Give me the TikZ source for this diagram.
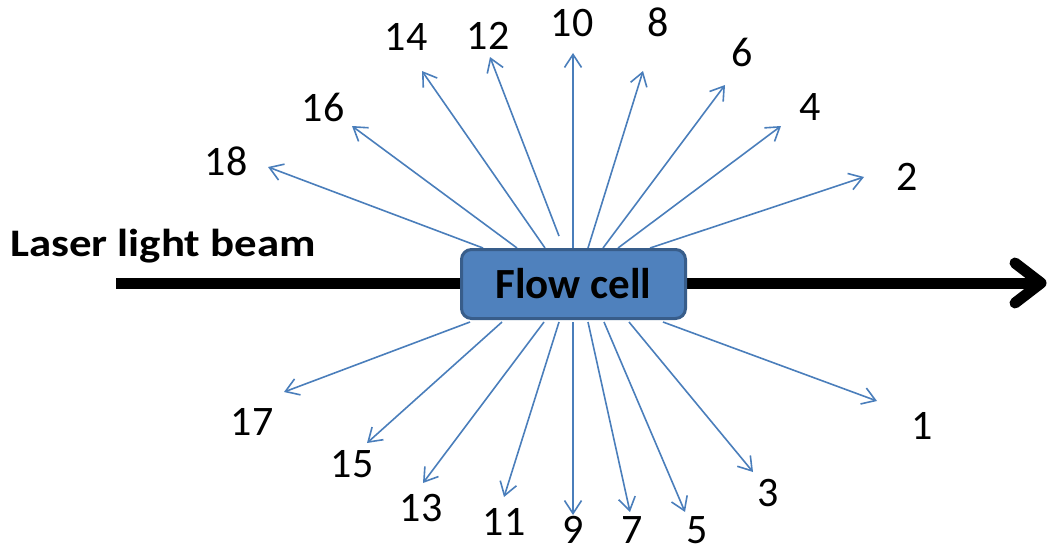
\documentclass[tikz,border=0pt]{standalone}
\usepackage{fontspec}
\setmainfont{Carlito}
\usetikzlibrary{arrows.meta,calc}
\definecolor{raycol}{HTML}{4A7EBB}
\definecolor{cellfill}{HTML}{4F81BD}
\definecolor{celledge}{HTML}{385D8A}
\begin{document}
\begin{tikzpicture}[x=1pt,y=-1pt,
  ray/.style={draw=raycol, line width=1.6pt, -{Straight Barb[length=13pt,width=17pt]}},
  num/.style={font=\fontsize{42}{42}\selectfont, inner sep=0pt, anchor=center},
  beamline/.style={line width=11pt, line cap=butt, black},
  chevron/.style={line width=11pt, line cap=round, line join=round, black},
  cell/.style={draw=celledge, fill=cellfill, line width=3pt, rounded corners=10pt,
    minimum width=224pt, minimum height=69pt, inner sep=0pt,
    font=\fontsize{43}{43}\selectfont\bfseries}]
\useasboundingbox (0,0) rectangle (1048,551);

% beam
\coordinate (bs) at (116,283);
\coordinate (be) at (1041,283);
\coordinate (bu) at (1015,263);
\coordinate (bd) at (1015,303);
\draw[beamline] (bs) -- (be);
\draw[chevron] (bu) -- (be) -- (bd);
\node[anchor=base west, inner sep=0pt, font=\fontsize{39}{39}\selectfont\bfseries]
  (laser) at (10,256.5) {\scalebox{1.15}[1]{Laser light beam}};

% ray start and tip coordinates
\foreach \n/\sx/\sy/\tx/\ty in {
  18/483/248/268/167, 16/517/248/352/126, 14/545/248/422/71,
  12/559/236/490/57, 10/573/248/573/53, 8/588/248/643/71,
  6/603/248/725/85, 4/618/248/781/126, 2/650/248/864/177,
  17/470/322/284/392, 15/502/322/367/443, 13/544/322/423/483,
  11/559/322/504/497, 9/573/322/573/515, 7/588/322/630/512,
  5/604/322/685/512, 3/629/322/753/472, 1/663/322/877/401}{
  \coordinate (s\n) at (\sx,\sy);
  \coordinate (t\n) at (\tx,\ty);
  \draw[ray] (s\n) -- (t\n);
}

% flow cell
\node[cell] (fc) at (573.5,284) {Flow cell};

% labels
\foreach \n/\x/\y in {
  14/406/37, 12/488/36, 10/572/23, 8/658/22, 6/742/52, 4/810/107,
  2/907/177, 16/323/107, 18/226/161, 17/252/422, 15/352/464,
  13/421/508, 11/504/522, 9/573/530, 7/632/530, 5/697/530,
  3/768/493, 1/922/426}{
  \node[num] (l\n) at (\x,\y) {\n};
}
\end{tikzpicture}
\end{document}
